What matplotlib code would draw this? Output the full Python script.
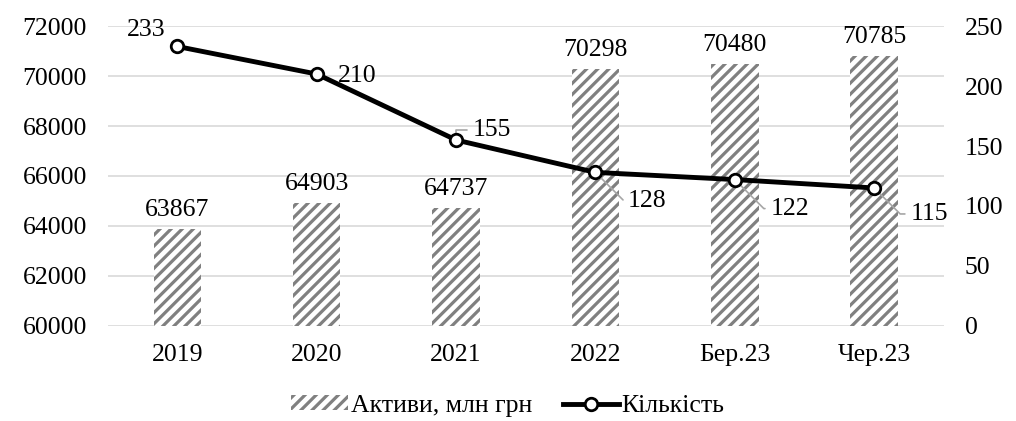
import matplotlib
matplotlib.use('Agg')
from matplotlib import pyplot as plt
from matplotlib.patches import Patch
from matplotlib.lines import Line2D

plt.rcParams['font.family'] = ['Liberation Serif', 'DejaVu Serif']
plt.rcParams['hatch.linewidth'] = 2.3

categories = ['2019', '2020', '2021', '2022', 'Бер.23', 'Чер.23']
assets = [63867, 64903, 64737, 70298, 70480, 70785]
counts = [233, 210, 155, 128, 122, 115]

# label offsets (pixels) for the line values
count_offsets = [(-31, 16), (40, -2), (36, 10), (52, -29), (55, -29), (55, -26)]

FS = 18.5
HATCH_C = '#808080'

figure, ax1 = plt.subplots(figsize=(10.16, 4.21), dpi=100)
plt.subplots_adjust(left=0.106, right=0.929, top=0.938, bottom=0.226)

x = list(range(len(categories)))
bars = ax1.bar(x, [a - 60000 for a in assets], bottom=60000, width=0.34,
               color='white', edgecolor=HATCH_C, linewidth=0, hatch='///', zorder=2)
for xi, a in zip(x, assets):
    ax1.annotate(f'{a}', (xi, a), xytext=(0, 8), textcoords='offset pixels',
                 ha='center', va='bottom', fontsize=FS)

ax1.set_ylim(60000, 72000)
ax1.set_yticks(range(60000, 72001, 2000))
ax1.set_xlim(-0.5, len(categories) - 0.5)
ax1.set_xticks(x)
ax1.set_xticklabels(categories)
ax1.grid(axis='y', color='#d9d9d9', lw=1.2, zorder=0)
ax1.set_axisbelow(True)
ax1.tick_params(length=0, labelsize=FS, pad=13)
ax1.tick_params(axis='y', pad=15)
for s in ax1.spines.values():
    s.set_visible(False)

ax2 = ax1.twinx()
ax2.plot(x, counts, color='black', lw=3.5, marker='o', markersize=9,
         markerfacecolor='white', markeredgecolor='black', markeredgewidth=2, zorder=5)
ax2.set_ylim(0, 250)
ax2.set_yticks(range(0, 251, 50))
ax2.tick_params(length=0, labelsize=FS, pad=15)
for s in ax2.spines.values():
    s.set_visible(False)

for i, (xi, c) in enumerate(zip(x, counts)):
    dx, dy = count_offsets[i]
    if i < 2:
        ax2.annotate(f'{c}', (xi, c), xytext=(dx, dy), textcoords='offset pixels',
                     ha='center', va='center', fontsize=FS)
    else:
        ax2.annotate(f'{c}', (xi, c), xytext=(dx, dy), textcoords='offset pixels',
                     ha='center', va='center', fontsize=FS,
                     arrowprops=dict(arrowstyle='-', color='#a6a6a6', lw=1.2,
                                     shrinkA=2, shrinkB=4,
                                     connectionstyle='angle,angleA=0,angleB=%d' % (90 if i == 2 else -45)))

handles = [Patch(facecolor='white', edgecolor=HATCH_C, hatch='///', linewidth=0),
           Line2D([0], [0], color='black', lw=3.5, marker='o', markersize=9,
                  markerfacecolor='white', markeredgecolor='black', markeredgewidth=2)]
figure.legend(handles, ['Активи, млн грн', 'Кількість'], loc='lower center',
              bbox_to_anchor=(0.5, -0.045), ncol=2, frameon=False, fontsize=FS,
              handlelength=2.2, handleheight=0.5, handletextpad=0.1, columnspacing=1.2)

plt.savefig('out.png', dpi=100)
